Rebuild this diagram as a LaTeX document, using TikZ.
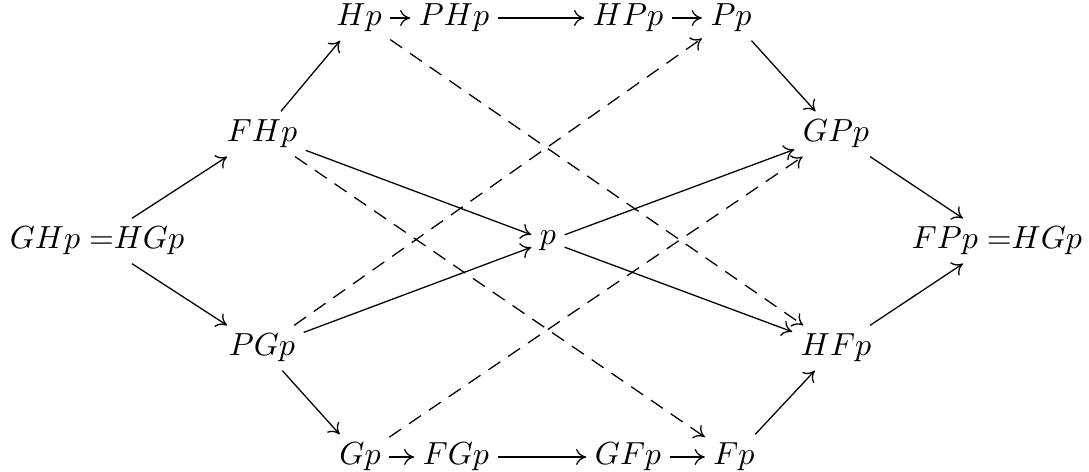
\documentclass[tikz,border=0pt]{standalone}
\usepackage{amsmath}
\usepackage{tikz}
\usetikzlibrary{arrows.meta}

\begin{document}
\begin{tikzpicture}[
  x=0.011cm, y=-0.011cm,
  every node/.style={inner sep=2.5pt},
  arr/.style={-{To[length=3.2pt,width=5pt]}},
  darr/.style={arr, dash pattern=on 4.5pt off 3pt}
]
\useasboundingbox (0,0) rectangle (1089,472);
% outer nodes
\node (ghp) at (97,241)  {$GHp\;{=}HGp$};
\node (fpp) at (997,241) {$FPp\;{=}HGp$};
\node (fhp) at (262,134) {$FHp$};
\node (pgp) at (262,348) {$PGp$};
\node (gpp) at (836,134) {$GPp$};
\node (hfp) at (836,348) {$HFp$};
\node (p)   at (548,241) {$p$};
% top row
\node (hp)  at (359,18)  {$Hp$};
\node (php) at (454,18)  {$PHp$};
\node (hpp) at (628,18)  {$HPp$};
\node (pp)  at (731,18)  {$Pp$};
% bottom row
\node (gp)  at (360,457) {$Gp$};
\node (fgp) at (456,457) {$FGp$};
\node (gfp) at (628,457) {$GFp$};
\node (fp)  at (734,457) {$Fp$};

\draw[arr] (ghp) -- (fhp);
\draw[arr] (ghp) -- (pgp);
\draw[arr] (fhp) -- (hp);
\draw[arr] (pgp) -- (gp);
\draw[arr] (hp) -- (php);
\draw[arr] (php) -- (hpp);
\draw[arr] (hpp) -- (pp);
\draw[arr] (gp) -- (fgp);
\draw[arr] (fgp) -- (gfp);
\draw[arr] (gfp) -- (fp);
\draw[arr] (pp) -- (gpp);
\draw[arr] (fp) -- (hfp);
\draw[arr] (gpp) -- (fpp);
\draw[arr] (hfp) -- (fpp);
\draw[arr] (fhp) -- (p);
\draw[arr] (pgp) -- (p);
\draw[arr] (p) -- (gpp);
\draw[arr] (p) -- (hfp);
% dashed crossings
\draw[darr] (hp) -- (hfp);
\draw[darr] (fhp) -- (fp);
\draw[darr] (pgp) -- (pp);
\draw[darr] (gp) -- (gpp);
\end{tikzpicture}
\end{document}
